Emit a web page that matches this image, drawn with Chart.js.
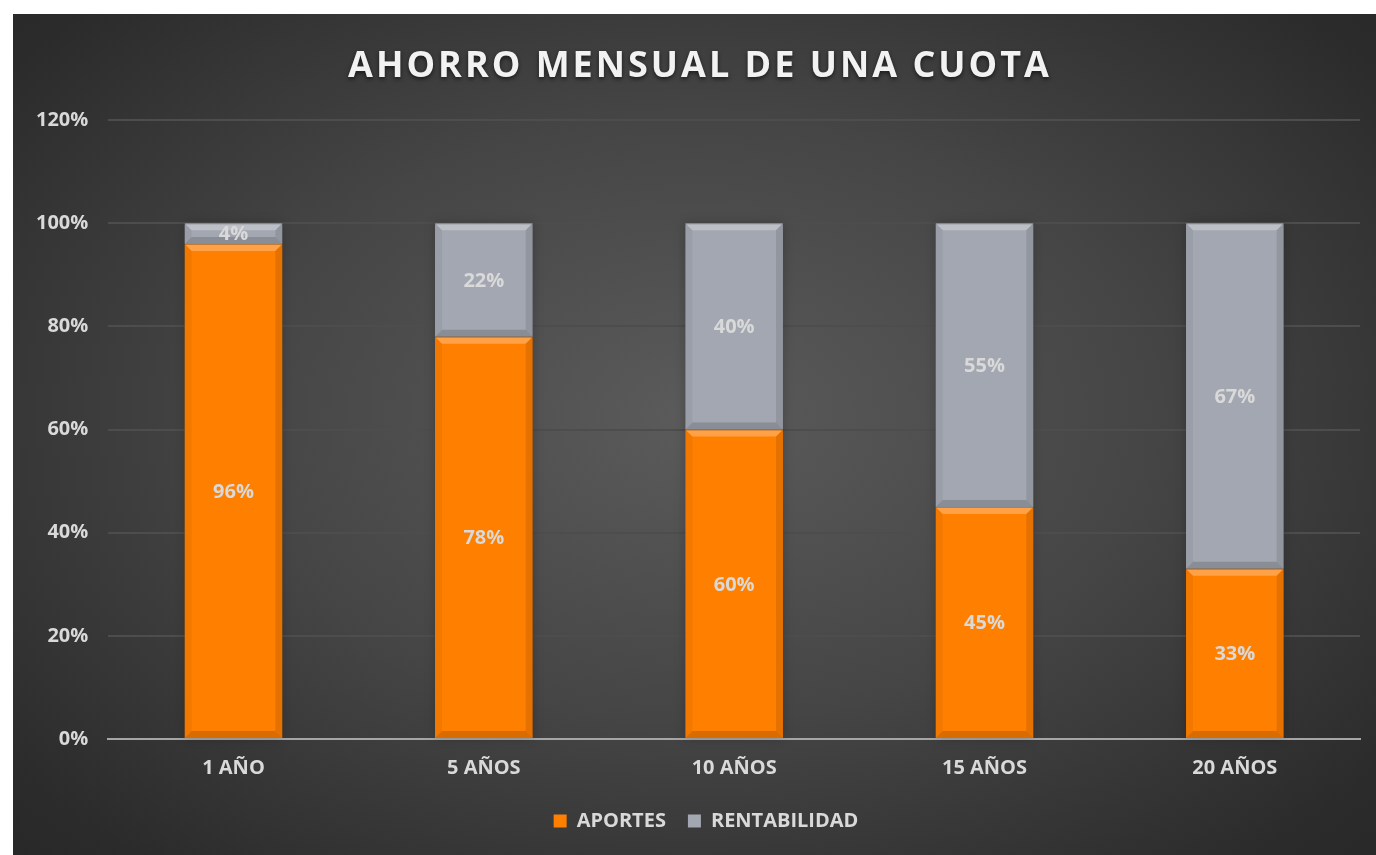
<!DOCTYPE html>
<html>
<head>
<meta charset="utf-8">
<script src="https://cdn.jsdelivr.net/npm/chart.js@4"></script>
<style>
  html, body { margin: 0; padding: 0; background: #ffffff; }
  #wrap {
    position: absolute; left: 13px; top: 14px; width: 1363px; height: 841px;
    background: radial-gradient(ellipse 75% 80% at 50% 48%, #5b5b5b 0%, #454545 45%, #2b2b2b 85%, #262626 100%);
  }
</style>
</head>
<body>
<div id="wrap"><canvas id="chart_bar"></canvas></div>
<script>
const categories = ['1 AÑO', '5 AÑOS', '10 AÑOS', '15 AÑOS', '20 AÑOS'];
const aportes = [96, 78, 60, 45, 33];
const rentabilidad = [4, 22, 40, 55, 67];
const yMax = 120;
const yStep = 20;
const titleText = 'AHORRO MENSUAL DE UNA CUOTA';

const FONT = '"Open Sans", sans-serif';
const LABEL = '#d9d9d9';

// soft drop shadow behind each stacked column
const shadowPlugin = {
  id: 'stackShadow',
  beforeDatasetsDraw(chart) {
    const ctx = chart.ctx;
    const first = chart.getDatasetMeta(0).data;
    const last = chart.getDatasetMeta(chart.data.datasets.length - 1).data;
    ctx.save();
    ctx.shadowColor = 'rgba(0,0,0,0.6)';
    ctx.shadowBlur = 10;
    ctx.fillStyle = 'rgba(0,0,0,0.35)';
    first.forEach((el, i) => {
      const p = el.getProps(['x', 'base', 'width'], true);
      const top = last[i].getProps(['y'], true).y;
      ctx.fillRect(p.x - p.width / 2, top, p.width, p.base - top);
    });
    ctx.restore();
  }
};

// bevel look on the bars + value labels
const bevelPlugin = {
  id: 'bevel',
  afterDatasetsDraw(chart) {
    const ctx = chart.ctx;
    chart.data.datasets.forEach((ds, di) => {
      chart.getDatasetMeta(di).data.forEach((el, i) => {
        const p = el.getProps(['x', 'y', 'base', 'width'], true);
        const l = p.x - p.width / 2, r = p.x + p.width / 2;
        const t = Math.min(p.y, p.base), b = Math.max(p.y, p.base);
        const s = Math.min(7, (b - t) / 3);
        ctx.save();
        ctx.fillStyle = 'rgba(255,255,255,0.28)';
        ctx.beginPath();
        ctx.moveTo(l, t); ctx.lineTo(r, t); ctx.lineTo(r - s, t + s); ctx.lineTo(l + s, t + s);
        ctx.closePath(); ctx.fill();
        ctx.fillStyle = 'rgba(0,0,0,0.05)';
        ctx.beginPath();
        ctx.moveTo(l, t); ctx.lineTo(l + s, t + s); ctx.lineTo(l + s, b - s); ctx.lineTo(l, b);
        ctx.closePath(); ctx.fill();
        ctx.fillStyle = 'rgba(0,0,0,0.1)';
        ctx.beginPath();
        ctx.moveTo(r, t); ctx.lineTo(r - s, t + s); ctx.lineTo(r - s, b - s); ctx.lineTo(r, b);
        ctx.closePath(); ctx.fill();
        ctx.fillStyle = 'rgba(0,0,0,0.15)';
        ctx.beginPath();
        ctx.moveTo(l, b); ctx.lineTo(r, b); ctx.lineTo(r - s, b - s); ctx.lineTo(l + s, b - s);
        ctx.closePath(); ctx.fill();
        ctx.fillStyle = 'rgba(0,0,0,0.25)';
        ctx.fillRect(l, t, p.width, 1);
        ctx.restore();

        // value label
        ctx.save();
        ctx.font = 'bold 20px ' + FONT;
        ctx.fillStyle = LABEL;
        ctx.textAlign = 'center';
        ctx.textBaseline = 'middle';
        ctx.fillText(ds.data[i] + '%', p.x, (t + b) / 2 + 1);
        ctx.restore();
      });
    });
  }
};

// title with letter spacing, drawn into the space the built-in title reserves
const spacedTitle = {
  id: 'spacedTitle',
  afterLayout(chart) {
    // legend sits a bit right of the canvas centre in the original
    chart.legend.left += 18;
    chart.legend.right += 18;
  },
  afterDraw(chart) {
    const tb = chart.titleBlock;
    const ctx = chart.ctx;
    ctx.save();
    ctx.font = 'bold 36px ' + FONT;
    ctx.letterSpacing = '3px';
    ctx.fillStyle = '#f2f2f2';
    ctx.textAlign = 'center';
    ctx.textBaseline = 'middle';
    ctx.shadowColor = 'rgba(0,0,0,0.6)';
    ctx.shadowBlur = 4;
    ctx.shadowOffsetY = 2;
    ctx.fillText(titleText, (tb.left + tb.right) / 2 + 12, (tb.top + tb.bottom) / 2);
    ctx.restore();
  }
};

const ctx = document.getElementById('chart_bar');

new Chart(ctx, {
  type: 'bar',
  data: {
    labels: categories,
    datasets: [
      {
        label: 'APORTES',
        data: aportes,
        backgroundColor: '#ff7f00',
        borderWidth: 0,
        barPercentage: 0.39,
        categoryPercentage: 1,
      },
      {
        label: 'RENTABILIDAD',
        data: rentabilidad,
        backgroundColor: '#a2a7b1',
        borderWidth: 0,
        barPercentage: 0.39,
        categoryPercentage: 1,
      },
    ],
  },
  options: {
    responsive: true,
    maintainAspectRatio: false,
    animation: false,
    layout: { padding: { left: 3, right: 16, top: 0, bottom: 14 } },
    scales: {
      x: {
        stacked: true,
        grid: { display: false },
        border: { color: '#a6a6a6', width: 2 },
        ticks: { color: LABEL, font: { family: FONT, size: 20, weight: 'bold' }, padding: 9 },
      },
      y: {
        stacked: true,
        min: 0,
        max: yMax,
        ticks: {
          stepSize: yStep,
          color: LABEL,
          font: { family: FONT, size: 20, weight: 'bold' },
          padding: 20,
          callback: (v) => v + '%',
        },
        grid: { color: '#4d4d4d', lineWidth: 2, drawTicks: false },
        border: { display: false },
      },
    },
    plugins: {
      title: {
        display: true,
        text: titleText,
        color: 'rgba(0,0,0,0)',
        font: { family: FONT, size: 36, weight: 'bold' },
        padding: { top: 29, bottom: 34 },
      },
      legend: {
        position: 'bottom',
        labels: {
          color: LABEL,
          font: { family: FONT, size: 20, weight: 'bold' },
          boxWidth: 13,
          boxHeight: 13,
          padding: 22,
        },
      },
      tooltip: { enabled: false },
    },
  },
  plugins: [shadowPlugin, bevelPlugin, spacedTitle],
});
</script>
</body>
</html>
